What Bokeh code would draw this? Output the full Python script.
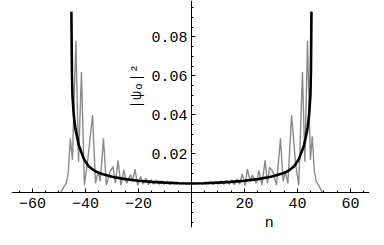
import math
from bokeh.plotting import figure
from bokeh.models import FixedTicker, Label, Range1d
from bokeh.embed import file_html
from bokeh.resources import INLINE

# Classical (black) curve
classical_n = [-45.3, -45.1, -44.9, -44.4, -43.8, -42.5, -40.6, -38.8, -36.5, -34.0, -30.0, -25.0,
               -20.0, -15.0, -10.0, -5.0, 0.0, 5.0, 10.0, 15.0, 20.0, 25.0, 30.0, 34.0, 36.5,
               38.8, 40.6, 42.5, 43.8, 44.4, 44.9, 45.1, 45.3]
classical_v = [0.093, 0.062, 0.050, 0.040, 0.033, 0.0245, 0.0175, 0.0137, 0.0113, 0.0098, 0.0083, 0.0071,
               0.0063, 0.0057, 0.0053, 0.0050, 0.0049, 0.0050, 0.0053, 0.0057, 0.0063, 0.0071, 0.0083, 0.0098, 0.0113,
               0.0137, 0.0175, 0.0245, 0.033, 0.040, 0.050, 0.062, 0.093]

# Quantum (grey) curve vertices
quantum_n = [-49.5, -48.8, -48.0, -47.2, -46.5, -45.7, -44.9, -43.6, -42.6, -41.5, -40.4, -39.2, -37.3,
             -36.2, -35.2, -34.4, -33.2, -32.1, -30.7, -29.6, -28.7, -27.7, -26.6, -25.5, -24.4,
             -23.0, -22.2, -21.3, -20.3, -19.2, -18.2, -17.2, -16.2, -15.2, -14.2, -13.2, -12.2,
             -11.2, -10.2, -9.2, -8.2, -7.2, -6.2, -5.2, -4.0, -3.0, -2.0, -1.0, 0.0,
             1.0, 2.0, 3.0, 4.0, 5.2, 6.2, 7.2, 8.2, 9.2, 10.2, 11.2, 12.2, 13.2, 14.2, 15.2,
             16.2, 17.2, 18.2, 19.2, 20.3, 21.1, 22.2, 23.0, 24.4, 25.5, 26.6, 27.8, 28.7, 29.5,
             30.7, 32.1, 33.6, 34.6, 35.4, 36.4, 37.8, 39.3, 40.5, 41.9, 42.8, 43.8, 44.9, 45.6,
             46.4, 47.1, 48.0, 48.8, 49.5]
quantum_v = [0.0, 0.0015, 0.0035, 0.005, 0.010, 0.028, 0.017, 0.078, 0.016, 0.062, 0.004, 0.016, 0.040,
             0.005, 0.011, 0.006, 0.028, 0.004, 0.011, 0.0135, 0.005, 0.0166, 0.004, 0.0118, 0.005,
             0.0095, 0.006, 0.0122, 0.004, 0.0085, 0.0045, 0.0075, 0.0042, 0.0068, 0.0045, 0.0065, 0.0045,
             0.0062, 0.0045, 0.0060, 0.0044, 0.0058, 0.0046, 0.0056, 0.0047, 0.0053, 0.0047, 0.0051, 0.0049,
             0.0051, 0.0047, 0.0053, 0.0047, 0.0056, 0.0046, 0.0058, 0.0044, 0.0060, 0.0045, 0.0062, 0.0045, 0.0064, 0.0045, 0.0068,
             0.0042, 0.0072, 0.0045, 0.0098, 0.0038, 0.0122, 0.006, 0.0092, 0.005, 0.0115, 0.004, 0.0167, 0.005, 0.0132,
             0.011, 0.004, 0.028, 0.006, 0.011, 0.005, 0.040, 0.015, 0.004, 0.062, 0.016, 0.078, 0.017, 0.029,
             0.011, 0.006, 0.004, 0.002, 0.0]

x_major = [-60, -40, -20, 20, 40, 60]
x_minor = [-65, -55, -50, -45, -35, -30, -25, -15, -10, -5, 5, 10, 15, 25, 30, 35, 45, 50, 55, 65]
y_major = [0.02, 0.04, 0.06, 0.08]
y_minor = [-0.015, -0.01, -0.005, 0.005, 0.01, 0.015, 0.025, 0.03, 0.035, 0.045, 0.05, 0.055,
           0.065, 0.07, 0.075, 0.085, 0.09, 0.095]

FONT = "Liberation Mono"

p = figure(width=376, height=237, x_range=Range1d(-67.9, 67.2), y_range=Range1d(-0.0177, 0.0987),
           output_backend="svg", toolbar_location=None,
           min_border_left=11, min_border_right=7, min_border_top=0, min_border_bottom=10)
p.outline_line_color = None
p.grid.visible = False
p.background_fill_color = "white"

p.line(quantum_n, quantum_v, line_color="#8a8a8a", line_width=1.4)
p.line(classical_n, classical_v, line_color="black", line_width=2.6)

for ax in (p.xaxis[0], p.yaxis[0]):
    ax.fixed_location = 0
    ax.axis_line_color = "black"
    ax.axis_line_width = 1
    ax.major_tick_in = 4
    ax.major_tick_out = 0
    ax.minor_tick_in = 2
    ax.minor_tick_out = 0
    ax.major_tick_line_color = "black"
    ax.minor_tick_line_color = "black"
    ax.major_label_text_font = FONT
    ax.major_label_text_font_size = "15px"
    ax.major_label_text_color = "black"

p.xaxis[0].ticker = FixedTicker(ticks=x_major, minor_ticks=x_minor)
p.yaxis[0].ticker = FixedTicker(ticks=y_major, minor_ticks=y_minor)
p.xaxis[0].major_label_standoff = 5
p.yaxis[0].major_label_standoff = 4

p.add_layout(Label(x=29.4, y=-0.0156, text="n", text_align="center", text_baseline="middle",
                   text_font=FONT, text_font_size="15px", text_color="black"))
p.add_layout(Label(x=-20.4, y=0.0546, text="|ψₒ|²", angle=math.pi / 2, text_align="center",
                   text_baseline="middle", text_font=FONT, text_font_size="15px", text_color="black"))

open("out.html", "w").write(file_html(p, INLINE))
